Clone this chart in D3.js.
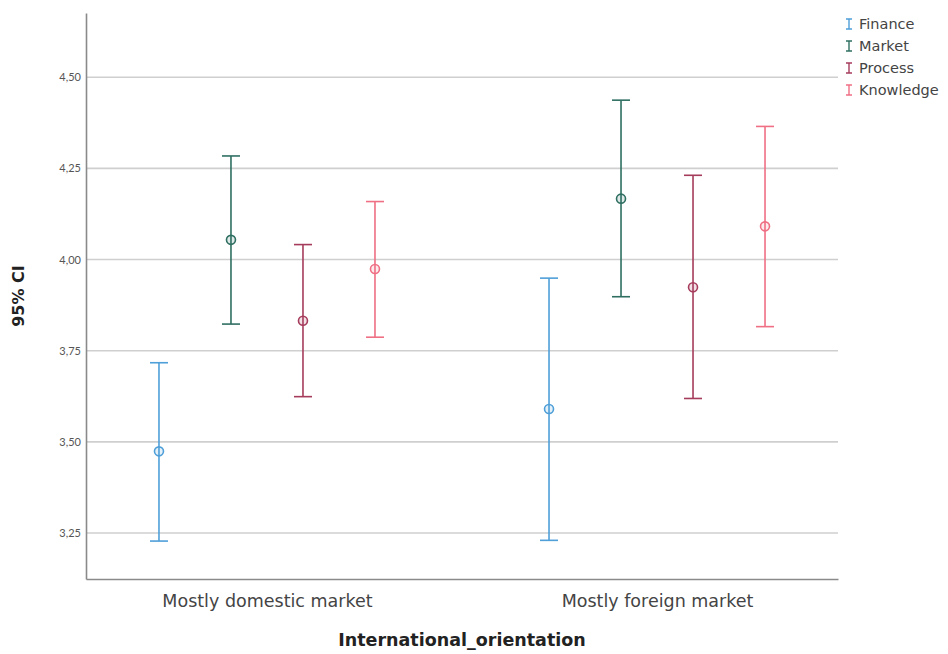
<!DOCTYPE html>
<html><head><meta charset="utf-8">
<script src="https://cdn.jsdelivr.net/npm/d3@7"></script>
<style>body{margin:0;background:#fff}</style>
</head><body>
<script>
const categories = ["Mostly domestic market", "Mostly foreign market"];
const seriesNames = ["Finance", "Market", "Process", "Knowledge"];
const seriesColors = ["#4f9fd9", "#2f6f62", "#a63c5c", "#ef6f84"];
const means = [[3.474, 4.054, 3.832, 3.974], [3.590, 4.167, 3.924, 4.091]];
const lower = [[3.228, 3.823, 3.624, 3.787], [3.230, 3.898, 3.619, 3.816]];
const upper = [[3.717, 4.284, 4.041, 4.159], [3.949, 4.437, 4.231, 4.365]];
const yTicks = [3.25, 3.50, 3.75, 4.00, 4.25, 4.50];

const W = 948, H = 654;
const m = {l: 86, r: 110, t: 13, b: 75};
const svg = d3.select("body").append("svg").attr("width", W).attr("height", H);
const y = d3.scaleLinear().domain([3.124, 4.676]).range([H - m.b, m.t]);
const x = d3.scalePoint().domain(categories).range([m.l, W - m.r]).padding(0.464);
const xs = d3.scalePoint().domain(seriesNames).range([-108, 108]);
const FONT = "'DejaVu Sans', sans-serif";

// gridlines
svg.append("g").selectAll("line").data(yTicks).join("line")
  .attr("x1", m.l).attr("x2", W - m.r)
  .attr("y1", d => y(d)).attr("y2", d => y(d))
  .attr("stroke", "#cfcfcf").attr("stroke-width", 1.6);

// axes
const yAxis = svg.append("g").attr("transform", `translate(${m.l},0)`)
  .call(d3.axisLeft(y).tickValues(yTicks).tickSize(0).tickPadding(5)
    .tickFormat(d => d3.format(".2f")(d).replace(".", ",")));
yAxis.select(".domain").attr("stroke", "#8a8a8a").attr("stroke-width", 1.6);
yAxis.selectAll("text").attr("font-family", "Lato, sans-serif").attr("font-size", 11).attr("fill", "#555");

const xAxis = svg.append("g").attr("transform", `translate(0,${H - m.b})`)
  .call(d3.axisBottom(x).tickSize(0).tickPadding(16));
xAxis.select(".domain").attr("stroke", "#8a8a8a").attr("stroke-width", 1.6);
xAxis.selectAll("text").attr("font-family", FONT).attr("font-size", 17.5).attr("fill", "#444");

// titles
svg.append("text").attr("x", (m.l + W - m.r) / 2).attr("y", 646).attr("text-anchor", "middle")
  .attr("font-family", FONT).attr("font-weight", "bold").attr("font-size", 17.5).attr("fill", "#222")
  .text("International_orientation");
svg.append("text").attr("transform", `translate(24,${(m.t + H - m.b) / 2}) rotate(-90)`).attr("text-anchor", "middle")
  .attr("font-family", FONT).attr("font-weight", "bold").attr("font-size", 16).attr("fill", "#222")
  .text("95% CI");

// error bars
const pts = [];
categories.forEach((c, ci) => seriesNames.forEach((s, si) => pts.push({c, s, si, m: means[ci][si], lo: lower[ci][si], hi: upper[ci][si]})));
const g = svg.append("g").selectAll("g").data(pts).join("g")
  .attr("transform", d => `translate(${x(d.c) + xs(d.s)},0)`)
  .attr("stroke", d => seriesColors[d.si]).attr("stroke-width", 1.6).attr("fill", "none");
g.append("line").attr("y1", d => y(d.lo)).attr("y2", d => y(d.hi));
g.append("line").attr("x1", -9).attr("x2", 9).attr("y1", d => y(d.lo)).attr("y2", d => y(d.lo));
g.append("line").attr("x1", -9).attr("x2", 9).attr("y1", d => y(d.hi)).attr("y2", d => y(d.hi));
g.append("circle").attr("cy", d => y(d.m)).attr("r", 4.5).attr("fill", d => seriesColors[d.si]).attr("fill-opacity", 0.15);

// legend
const lg = svg.append("g").selectAll("g").data(seriesNames).join("g")
  .attr("transform", (d, i) => `translate(849,${24 + i * 22})`);
lg.append("path").attr("d", "M-3,-5H3M0,-5V5M-3,5H3").attr("stroke", (d, i) => seriesColors[i]).attr("stroke-width", 1.4).attr("fill", "none");
lg.append("text").attr("x", 10).attr("y", 5).text(d => d)
  .attr("font-family", FONT).attr("font-size", 14.5).attr("fill", "#444");
</script>
</body></html>
